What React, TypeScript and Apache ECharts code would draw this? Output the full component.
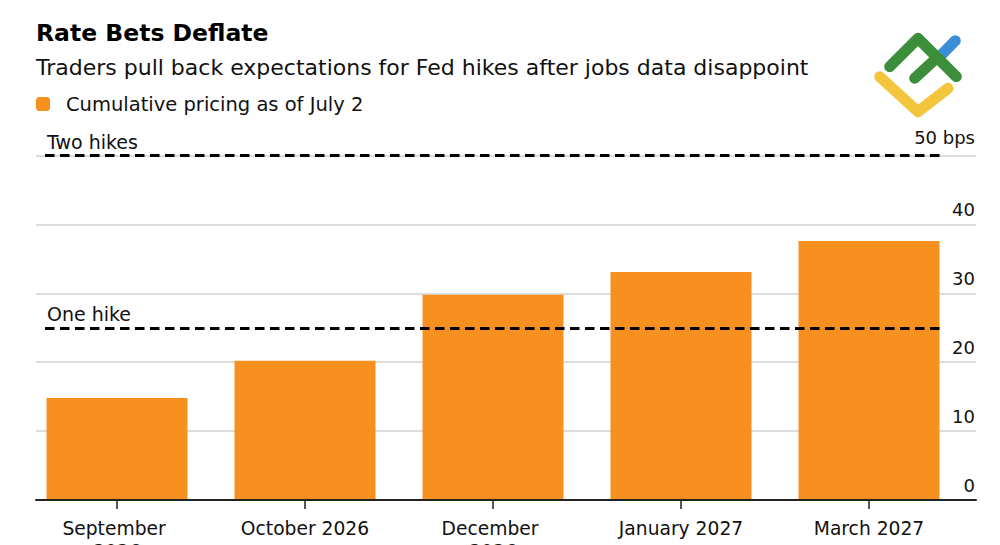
import React, { useEffect, useRef } from "react";
import * as echarts from "echarts";

// Delivery months and cumulative pricing (bps)
const categories = ["September 2026", "October 2026", "December 2026", "January 2027", "March 2027"];
const pricing = [14.8, 20.2, 29.8, 33.1, 37.6];
const seriesName = "Cumulative pricing as of July 2";

// Reference levels
const hikeNames = ["One hike", "Two hikes"];
const hikeLevels = [25, 50];

// Y axis scale
const yMin = 0;
const yMax = 50;
const yStep = 10;

const FONT = "'DejaVu Sans', 'Liberation Sans', sans-serif";
const BAR = "#F8901F";
const INK = "#111";

export default function App() {
  const ref = useRef<HTMLDivElement>(null);

  useEffect(() => {
    document.body.style.margin = "0";
    if (!ref.current) return;
    const chart = echarts.init(ref.current, null, { renderer: "svg" });

    const option: any = {
      animation: false,
      backgroundColor: "#fff",
      title: [
        {
          text: "Rate Bets Deflate",
          left: 36,
          top: 21,
          padding: 0,
          textStyle: { fontFamily: FONT, fontSize: 23.5, fontWeight: "bold", color: "#000" },
        },
        {
          text: "Traders pull back expectations for Fed hikes after jobs data disappoint",
          left: 36,
          top: 56,
          padding: 0,
          textStyle: { fontFamily: FONT, fontSize: 22, fontWeight: "normal", color: INK },
        },
      ],
      legend: {
        left: 36,
        top: 94,
        padding: 0,
        itemWidth: 14,
        itemHeight: 14,
        icon: "roundRect",
        selectedMode: false,
        data: [seriesName],
        textStyle: { fontFamily: FONT, fontSize: 19.5, color: INK, padding: [0, 0, 0, 11] },
      },
      grid: [
        { left: 36, right: 24, top: 155.5, bottom: 45, outerBoundsMode: "none", containLabel: false },
        { left: 23, right: 37, top: 155.5, bottom: 45, outerBoundsMode: "none", containLabel: false },
      ],
      xAxis: [
        {
          gridIndex: 0,
          type: "value",
          min: 0,
          max: 1,
          z: 5,
          axisLine: { show: true, lineStyle: { color: "#222", width: 2 } },
          axisTick: { show: false },
          axisLabel: { show: false },
          splitLine: { show: false },
        },
        {
          gridIndex: 1,
          type: "category",
          data: categories,
          axisLine: { show: false },
          axisTick: { show: true, alignWithLabel: true, length: 9, lineStyle: { color: "#222", width: 1.5 } },
          axisLabel: {
            interval: 0,
            margin: 17,
            fontFamily: FONT,
            fontSize: 18.7,
            color: INK,
            width: 140,
            overflow: "break",
            lineHeight: 23,
          },
        },
      ],
      yAxis: [
        {
          gridIndex: 0,
          type: "value",
          position: "right",
          min: yMin,
          max: yMax,
          interval: yStep,
          axisLine: { show: false },
          axisTick: { show: false },
          splitLine: { show: true, lineStyle: { color: "#d0d0d0", width: 1.5 } },
          axisLabel: {
            inside: true,
            margin: 1,
            verticalAlign: "bottom",
            padding: [0, 0, 6, 0],
            fontFamily: FONT,
            fontSize: 18,
            color: INK,
            formatter: (v: number) => (v === yMax ? `{top|${v} bps}` : `${v}`),
            rich: {
              top: { fontFamily: FONT, fontSize: 18, color: INK, padding: [0, 0, 3, 0] },
            },
          },
        },
        { gridIndex: 1, type: "value", min: yMin, max: yMax, show: false },
      ],
      series: [
        {
          type: "bar",
          name: seriesName,
          xAxisIndex: 1,
          yAxisIndex: 1,
          data: pricing,
          barWidth: 141,
          itemStyle: { color: BAR },
          emphasis: { disabled: true },
          markLine: {
            silent: true,
            symbol: "none",
            lineStyle: { color: "#000", width: 3, type: [9.5, 5.5] },
            label: {
              show: true,
              position: "insideStartTop",
              distance: [2, 4],
              fontFamily: FONT,
              fontSize: 19,
              color: INK,
              formatter: (p: any) => p.name,
            },
            emphasis: { disabled: true },
            data: hikeLevels.map((v, i) => [
              { name: hikeNames[i], x: 45, yAxis: v },
              { x: 940, yAxis: v },
            ]),
          },
        },
      ],
      graphic: [
        {
          type: "group",
          silent: true,
          children: [
            {
              type: "polyline",
              shape: { points: [[879.7, 76.7], [918, 111.7], [948, 88.3]] },
              style: { stroke: "#F2C53D", lineWidth: 11, lineCap: "round", lineJoin: "round", fill: "none" },
            },
            {
              type: "line",
              shape: { x1: 938, y1: 58.3, x2: 955.3, y2: 40.7 },
              style: { stroke: "#3B8FD8", lineWidth: 11, lineCap: "round" },
            },
            {
              type: "polyline",
              shape: { points: [[889.7, 66.7], [918, 38.3], [956.3, 76.7]] },
              style: { stroke: "#3C8E3A", lineWidth: 11, lineCap: "round", lineJoin: "round", fill: "none" },
            },
            {
              type: "line",
              shape: { x1: 914.7, y1: 78.3, x2: 936.3, y2: 58.3 },
              style: { stroke: "#3C8E3A", lineWidth: 11, lineCap: "round" },
            },
          ],
        },
      ],
    };

    chart.setOption(option);
    return () => chart.dispose();
  }, []);

  return <div ref={ref} style={{ width: 1000, height: 545 }} />;
}
